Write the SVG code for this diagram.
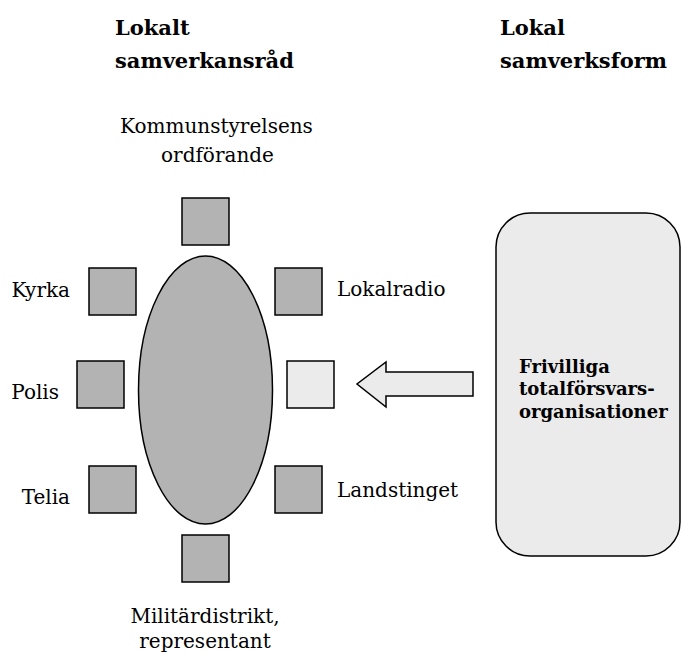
<svg xmlns="http://www.w3.org/2000/svg" width="682" height="654" viewBox="0 0 682 654">
<style>
text{font-family:"DejaVu Serif","Liberation Serif",serif;fill:#000}
.t{font-size:21px;font-weight:bold}
.l{font-size:20px}
.b{font-size:18px;font-weight:bold}
.seat{fill:#b3b3b3;stroke:#000;stroke-width:1.5}
.light{fill:#ebebeb;stroke:#000;stroke-width:1.5}
</style>
<rect width="682" height="654" fill="#fff"/>
<g id="titles">
<text class="t" x="115" y="35">Lokalt</text>
<text class="t" x="115" y="68">samverkansråd</text>
<text class="t" x="500" y="35">Lokal</text>
<text class="t" x="500" y="68">samverksform</text>
</g>
<g id="table"><ellipse cx="205.5" cy="390" rx="67" ry="134" fill="#b3b3b3" stroke="#000" stroke-width="1.5"/></g>
<g id="kommun"><rect class="seat" x="182" y="198" width="47" height="47"/>
<text class="l" x="216.5" y="133" text-anchor="middle">Kommunstyrelsens</text>
<text class="l" x="217.5" y="162" text-anchor="middle">ordförande</text></g>
<g id="kyrka"><rect class="seat" x="89" y="268" width="47" height="47"/><text class="l" x="70" y="297" text-anchor="end">Kyrka</text></g>
<g id="lokalradio"><rect class="seat" x="275" y="268" width="47" height="47"/><text class="l" x="337" y="296">Lokalradio</text></g>
<g id="polis"><rect class="seat" x="77" y="361" width="47" height="47"/><text class="l" x="59" y="399" text-anchor="end">Polis</text></g>
<g id="frivillig-seat"><rect class="light" x="287" y="361" width="47" height="47"/></g>
<g id="telia"><rect class="seat" x="89" y="466" width="47" height="47"/><text class="l" x="70" y="504" text-anchor="end">Telia</text></g>
<g id="landstinget"><rect class="seat" x="275" y="466" width="47" height="47"/><text class="l" x="337" y="497">Landstinget</text></g>
<g id="militar"><rect class="seat" x="182" y="535" width="47" height="47"/>
<text class="l" x="205" y="623" text-anchor="middle">Militärdistrikt,</text>
<text class="l" x="205" y="648" text-anchor="middle">representant</text></g>
<g id="frivilliga"><rect class="light" x="496" y="213" width="184" height="343" rx="34" ry="34"/>
<text class="b" x="519" y="373">Frivilliga</text>
<text class="b" x="519" y="395">totalförsvars-</text>
<text class="b" x="519" y="418">organisationer</text></g>
<g id="connectors"><path class="light" d="M473,372 L386,372 L386,362 L357,384 L386,407 L386,396 L473,396 Z"/></g>
</svg>
